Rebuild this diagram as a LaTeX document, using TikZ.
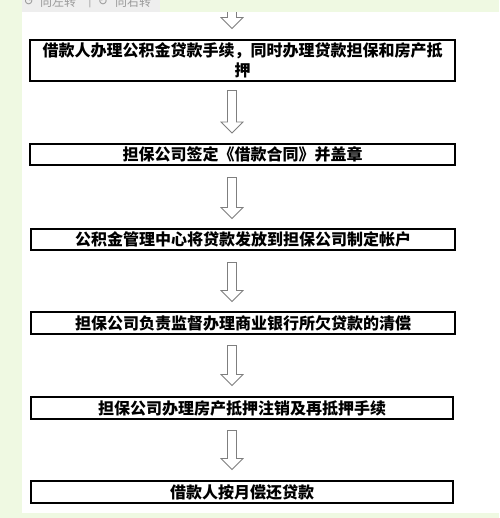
\documentclass[tikz,border=0pt]{standalone}
\usepackage{fontspec}
\setmainfont{Liberation Sans}
\newfontfamily\cjk{Noto Sans CJK SC}
\newfontfamily\symfont{DejaVu Sans}
\usetikzlibrary{calc}
\definecolor{pagegreen}{HTML}{EFF9E2}
\definecolor{toolgray}{HTML}{EEEEEE}
\definecolor{tooltext}{HTML}{9A9A9A}
\definecolor{arrowgray}{HTML}{7F7F7F}
\tikzset{
  flowbox/.style={draw=black, line width=1.1pt, fill=white, inner sep=0pt,
    font=\cjk\bfseries\fontsize{16}{20}\selectfont, align=center},
  hollowarrow/.style={draw=arrowgray, line width=0.8pt, fill=white, line join=miter,
    to path={let \p1=(\tikztostart), \p2=(\tikztotarget) in
      (\x1-4.5pt,\y1) -- (\x1-4.5pt,\y2+11pt) -- (\x1-11pt,\y2+11pt) -- (\x2,\y2)
      -- (\x1+11pt,\y2+11pt) -- (\x1+4.5pt,\y2+11pt) -- (\x1+4.5pt,\y1) -- cycle}},
  tooltxt/.style={text=tooltext, font=\cjk\fontsize{12}{12}\selectfont, inner sep=0pt}
}
\begin{document}
\begin{tikzpicture}[x=1pt,y=-1pt]
\useasboundingbox (0,0) rectangle (499,518);
\clip (0,0) rectangle (499,518);
% page background
\fill[pagegreen] (0,0) rectangle (499,518);
\fill[white] (22,12) rectangle (499,513);
% toolbar (cut off at the top edge)
\fill[toolgray] (22,0) rectangle (160,12);
\node[tooltxt, font=\symfont\fontsize{12}{12}\selectfont] (ic1) at (29,1.5) {↺};
\node[tooltxt] (tl) at (58,1.5) {向左转};
\node[tooltxt] (sep) at (90,1.5) {|};
\node[tooltxt, font=\symfont\fontsize{12}{12}\selectfont] (ic2) at (103,1.5) {↻};
\node[tooltxt] (tr) at (133,1.5) {向右转};
% boxes
\node[flowbox, minimum width=425pt, minimum height=41pt] (b1) at (242.5,60.5)
  {借款人办理公积金贷款手续，同时办理贷款担保和房产抵\\押};
\node[flowbox, minimum width=425pt, minimum height=21pt] (b2) at (242.5,154.5)
  {担保公司签定《借款合同》并盖章};
\node[flowbox, minimum width=424pt, minimum height=21pt] (b3) at (243,239.5)
  {公积金管理中心将贷款发放到担保公司制定帐户};
\node[flowbox, minimum width=424pt, minimum height=22pt] (b4) at (243,323)
  {担保公司负责监督办理商业银行所欠贷款的清偿};
\node[flowbox, minimum width=422pt, minimum height=22pt] (b5) at (242,408)
  {担保公司办理房产抵押注销及再抵押手续};
\node[flowbox, minimum width=422pt, minimum height=22pt] (b6) at (242,492)
  {借款人按月偿还贷款};
% arrow ends (y grows downward)
\coordinate (t1) at ($(b1.north)+(-10.5,-40)$);
\coordinate (h1) at ($(b1.north)+(-10.5,-11)$);
\coordinate (t2) at ($(b1.south)+(-10.5,9)$);
\coordinate (h2) at ($(b2.north)+(-10.5,-10.5)$);
\coordinate (t3) at ($(b2.south)+(-10.5,12)$);
\coordinate (h3) at ($(b3.north)+(-11,-10)$);
\coordinate (t4) at ($(b3.south)+(-11,12)$);
\coordinate (h4) at ($(b4.north)+(-11,-10)$);
\coordinate (t5) at ($(b4.south)+(-11,11)$);
\coordinate (h5) at ($(b5.north)+(-10,-11)$);
\coordinate (t6) at ($(b5.south)+(-10,11)$);
\coordinate (h6) at ($(b6.north)+(-10,-11)$);
\draw[hollowarrow] (t1) to (h1);
\draw[hollowarrow] (t2) to (h2);
\draw[hollowarrow] (t3) to (h3);
\draw[hollowarrow] (t4) to (h4);
\draw[hollowarrow] (t5) to (h5);
\draw[hollowarrow] (t6) to (h6);
% top band over arrow 1
\fill[pagegreen] (160,0) rectangle (499,12);
\end{tikzpicture}
\end{document}
